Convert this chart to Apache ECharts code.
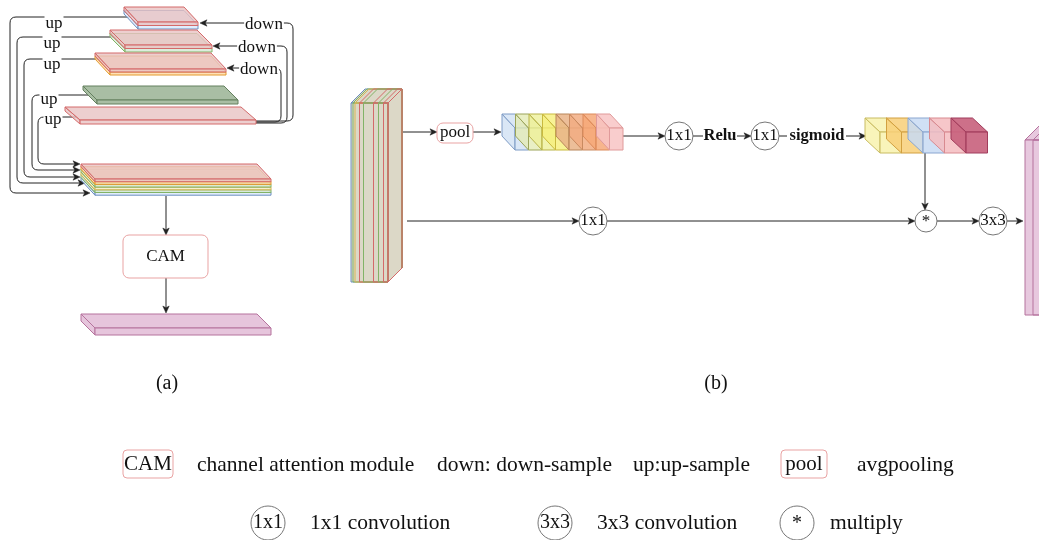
<!DOCTYPE html>
<html>
<head>
<meta charset="utf-8">
<title>CAM fusion diagram</title>
<script src="https://cdn.jsdelivr.net/npm/echarts@6/dist/echarts.min.js"></script>
<style>
  html, body { margin: 0; padding: 0; background: #fff; }
  #chart { width: 1039px; height: 540px; }
</style>
</head>
<body>
<div id="chart"></div>
<script>
  // ---------- (a) feature plates, top to bottom ----------
  const plateFrontX = [138, 125, 110, 97, 80, 95, 95];
  const plateFrontY = [22, 45, 69, 100, 120, 179, 328];
  const plateWidth = [60, 87, 116, 141, 176, 176, 176];
  const plateLayerH = [3.5, 3.5, 3, 4, 4, 2.7, 7];
  const plateDepth = [[14, 15], [15, 15], [15, 16], [14, 14], [15, 13], [14, 15], [14, 14]];
  const plateLayers = [
    ['red', 'blue'],
    ['red', 'green'],
    ['red', 'orange'],
    ['sage'],
    ['red'],
    ['red', 'orange', 'green', 'yellow', 'green', 'blue'],
    ['mauve']
  ];

  // ---------- (b) tall feature columns (input / output) ----------
  const columnFront = [[351, 103, 37, 179], [1025, 140, 60, 175]];
  const columnDepth = [[14, -14], [14, -14]];
  const columnOffsets = [[0, 2, 4, 8.5, 12.5, 22.5, 27.5, 32.5], [0, 8]];
  const columnColors = [
    ['blue', 'green', 'yellow', 'red', 'green', 'red', 'green', 'red'],
    ['mauve', 'mauve']
  ];
  const columnBody = ['#dcd8c7', '#e7c8de'];

  // ---------- (b) channel vectors drawn as cube rows ----------
  const pooledX = [515, 528.5, 542, 555.5, 569, 582.5, 596, 609.5];
  const pooledColors = ['sky', 'lime', 'lemon', 'sun', 'tan', 'apricot', 'peach', 'rose'];
  const weightX = [880, 901.5, 923, 944.5, 966];
  const weightColors = ['cream', 'gold', 'ice', 'blush', 'crimson'];
  const cubeRows = [
    { xs: pooledX, colors: pooledColors, y: 128, w: 13.5, h: 22, depth: [-13, -14] },
    { xs: weightX, colors: weightColors, y: 132, w: 21.5, h: 21, depth: [-15, -14] }
  ];

  // ---------- connectors ----------
  const linkPoints = [
    // up-sampling paths (a)
    [[132, 17], [10, 17], [10, 193], [90, 193]],
    [[117, 37], [17, 37], [17, 183], [85, 183]],
    [[100, 59], [24, 59], [24, 177], [80, 177]],
    [[92, 95], [32, 95], [32, 170], [80, 170]],
    [[76, 117], [38, 117], [38, 164], [80, 164]],
    // down-sampling paths (a)
    [[256, 121], [293, 121], [293, 23], [200, 23]],
    [[256, 123], [287, 123], [287, 46], [213, 46]],
    [[256, 122], [281, 122], [281, 68], [227, 68]],
    [[166, 196], [166, 235]],
    [[166, 278], [166, 313]],
    // (b)
    [[402, 132], [437, 132]],
    [[473, 132], [501, 132]],
    [[623, 136], [665, 136]],
    [[693, 136], [703, 136]],
    [[737, 136], [751, 136]],
    [[779, 136], [787, 136]],
    [[846, 136], [866, 136]],
    [[925, 153], [925, 210]],
    [[407, 221], [579, 221]],
    [[607, 221], [915, 221]],
    [[937, 221], [979, 221]],
    [[1007, 221], [1023, 221]]
  ];
  const linkArrow = [1, 1, 1, 1, 1, 1, 1, 1, 1, 1, 1, 1, 1, 0, 1, 0, 1, 1, 1, 1, 1, 1];

  // ---------- boxes, circles, text ----------
  const boxes = [['CAM', 123, 235, 85, 43], ['pool', 437, 123, 36, 20], ['CAM', 123, 450, 50, 28], ['pool', 781, 450, 46, 28]];
  const circles = [
    ['1x1', 679, 136, 14], ['1x1', 765, 136, 14], ['1x1', 593, 221, 14], ['*', 926, 221, 11], ['3x3', 993, 221, 14],
    ['1x1', 268, 523, 17], ['3x3', 555, 523, 17], ['*', 797, 523, 17]
  ];
  const edgeLabels = [
    ['up', 54, 24], ['up', 52, 44], ['up', 52, 65], ['up', 49, 100], ['up', 53, 120],
    ['down', 264, 25], ['down', 257, 48], ['down', 259, 70]
  ];
  const boldLabels = [['Relu', 720, 136], ['sigmoid', 817, 136]];
  const captions = [['(a)', 167, 384], ['(b)', 716, 384]];
  const legendTexts = [
    ['channel attention module', 197, 465], ['down: down-sample', 437, 465], ['up:up-sample', 633, 465],
    ['avgpooling', 857, 465], ['1x1 convolution', 310, 523], ['3x3 convolution', 597, 523], ['multiply', 830, 523]
  ];

  const palette = {
    red: { fill: '#e9c3c3', stroke: '#d46a6a', alpha: 0.8 },
    blue: { fill: '#dae8fc', stroke: '#6c8ebf', alpha: 0.8 },
    green: { fill: '#d5e8d4', stroke: '#82b366', alpha: 0.8 },
    orange: { fill: '#ffd9a8', stroke: '#e39a2d', alpha: 0.8 },
    yellow: { fill: '#fff2cc', stroke: '#d6b656', alpha: 0.8 },
    sage: { fill: '#a9bea4', stroke: '#64805e', alpha: 1 },
    mauve: { fill: '#e6c5dc', stroke: '#b5739d', alpha: 1 },
    sky: { fill: '#d4e3f5', stroke: '#7f9cc6', alpha: 0.85 },
    lime: { fill: '#e4ebb5', stroke: '#9ba45a', alpha: 0.8 },
    lemon: { fill: '#eef09a', stroke: '#b8b34a', alpha: 0.8 },
    sun: { fill: '#f6ef7a', stroke: '#c9b93f', alpha: 0.8 },
    tan: { fill: '#e9b387', stroke: '#b8865a', alpha: 0.85 },
    apricot: { fill: '#f2ad82', stroke: '#c98a60', alpha: 0.85 },
    peach: { fill: '#f6a878', stroke: '#dc8a5a', alpha: 0.85 },
    rose: { fill: '#f8c4c4', stroke: '#e09a9a', alpha: 0.85 },
    cream: { fill: '#f8f2ae', stroke: '#c9bc62', alpha: 0.85 },
    gold: { fill: '#f8cf78', stroke: '#d2a040', alpha: 0.85 },
    ice: { fill: '#c8daf3', stroke: '#8aa6d0', alpha: 0.85 },
    blush: { fill: '#f4bcc0', stroke: '#d88a90', alpha: 0.85 },
    crimson: { fill: '#c8607c', stroke: '#a03d5c', alpha: 0.9 }
  };

  const INK = '#222';
  const FONT = '"Liberation Serif", "Times New Roman", serif';

  // side, top and front faces of an oblique box; back face sits at (x+dx, y+dy)
  const boxFaces = (api, x, y, w, h, dx, dy) => {
    const c = (px, py) => api.coord([px, py]);
    const top = [c(x, y), c(x + w, y), c(x + w + dx, y + dy), c(x + dx, y + dy)];
    const side = dx < 0
      ? [c(x, y), c(x + dx, y + dy), c(x + dx, y + dy + h), c(x, y + h)]
      : [c(x + w, y), c(x + w + dx, y + dy), c(x + w + dx, y + dy + h), c(x + w, y + h)];
    const front = [c(x, y), c(x + w, y), c(x + w, y + h), c(x, y + h)];
    return [side, top, front];
  };

  const boxElements = (api, geo, fill, stroke, fillOpacity) =>
    boxFaces(api, ...geo).map(points => ({
      type: 'polygon',
      shape: { points },
      style: { fill: fill || 'none', stroke, lineWidth: 1, fillOpacity }
    }));

  const roundedPath = (pts, r) => {
    let d = 'M' + pts[0][0] + ' ' + pts[0][1];
    for (let i = 1; i < pts.length - 1; i++) {
      const [x0, y0] = pts[i - 1], [x1, y1] = pts[i], [x2, y2] = pts[i + 1];
      const l1 = Math.hypot(x1 - x0, y1 - y0), l2 = Math.hypot(x2 - x1, y2 - y1);
      const rr = Math.min(r, l1 / 2, l2 / 2);
      const ax = x1 + (x0 - x1) / l1 * rr, ay = y1 + (y0 - y1) / l1 * rr;
      const bx = x1 + (x2 - x1) / l2 * rr, by = y1 + (y2 - y1) / l2 * rr;
      d += ' L' + ax + ' ' + ay + ' Q' + x1 + ' ' + y1 + ' ' + bx + ' ' + by;
    }
    const last = pts[pts.length - 1];
    return d + ' L' + last[0] + ' ' + last[1];
  };

  const textEl = (api, text, x, y, opts) => {
    const p = api.coord([x, y]);
    return {
      type: 'text',
      style: Object.assign({
        text, x: p[0], y: p[1], fill: '#111',
        font: (opts.weight || 'normal') + ' ' + opts.size + 'px ' + FONT,
        align: opts.align || 'center', verticalAlign: 'middle'
      }, opts.extra || {})
    };
  };

  const renderPlate = (params, api) => {
    const i = params.dataIndex;
    const layers = plateLayers[i];
    const children = [];
    for (let k = layers.length - 1; k >= 0; k--) {
      const st = palette[layers[k]];
      const geo = [plateFrontX[i], plateFrontY[i] + k * plateLayerH[i], plateWidth[i], plateLayerH[i],
        -plateDepth[i][0], -plateDepth[i][1]];
      children.push(...boxElements(api, geo, st.fill, st.stroke, st.alpha));
    }
    return { type: 'group', children };
  };

  const renderColumn = (params, api) => {
    const i = params.dataIndex;
    const [x, y, w, h] = columnFront[i];
    const children = [];
    columnOffsets[i].forEach((off, k) => {
      const st = palette[columnColors[i][k]];
      const geo = [x + off, y, w - off, h, columnDepth[i][0], columnDepth[i][1]];
      children.push(...boxElements(api, geo, k === 0 ? columnBody[i] : null, st.stroke, 1));
    });
    return { type: 'group', children };
  };

  const renderCubes = (params, api) => {
    const row = cubeRows[params.dataIndex];
    const children = [];
    row.xs.forEach((x, k) => {
      const st = palette[row.colors[k]];
      children.push(...boxElements(api, [x, row.y, row.w, row.h, row.depth[0], row.depth[1]], st.fill, st.stroke, st.alpha));
    });
    return { type: 'group', children };
  };

  const renderLink = (params, api) => {
    const i = params.dataIndex;
    const pts = linkPoints[i].map(p => api.coord(p));
    const n = pts.length;
    const children = [];
    if (linkArrow[i]) {
      const end = pts[n - 1], prev = pts[n - 2];
      const len = Math.hypot(end[0] - prev[0], end[1] - prev[1]);
      const ux = (end[0] - prev[0]) / len, uy = (end[1] - prev[1]) / len;
      const L = 7, W = 3.2;
      const bx = end[0] - ux * L, by = end[1] - uy * L;
      const notch = [end[0] - ux * L * 0.75, end[1] - uy * L * 0.75];
      children.push({
        type: 'polygon',
        shape: { points: [end, [bx - uy * W, by + ux * W], notch, [bx + uy * W, by - ux * W]] },
        style: { fill: INK, stroke: INK, lineWidth: 0.5 }
      });
      pts[n - 1] = notch;
    }
    children.unshift({
      type: 'path',
      shape: { pathData: roundedPath(pts, 6) },
      style: { fill: 'none', stroke: INK, lineWidth: 1 }
    });
    return { type: 'group', children };
  };

  const renderBox = (params, api) => {
    const [label, x, y, w, h] = boxes[params.dataIndex];
    const p = api.coord([x, y]), q = api.coord([x + w, y + h]);
    const legend = y > 400;
    return {
      type: 'group',
      children: [
        { type: 'rect', shape: { x: p[0], y: p[1], width: q[0] - p[0], height: q[1] - p[1], r: legend ? 4 : 6 },
          style: { fill: '#fff', stroke: '#e9a3a3', lineWidth: 1 } },
        textEl(api, label, x + w / 2, y + h / 2, { size: legend ? 21 : 17 })
      ]
    };
  };

  const renderCircle = (params, api) => {
    const [label, cx, cy, r] = circles[params.dataIndex];
    const c = api.coord([cx, cy]);
    const rp = api.coord([cx + r, cy])[0] - c[0];
    return {
      type: 'group',
      children: [
        { type: 'circle', shape: { cx: c[0], cy: c[1], r: rp }, style: { fill: '#fff', stroke: '#777', lineWidth: 1 } },
        textEl(api, label, cx, cy + (label === '*' ? 1 : 0), { size: r > 15 ? 20 : 17 })
      ]
    };
  };

  const renderTexts = (params, api) => {
    const children = [];
    edgeLabels.forEach(([t, x, y]) =>
      children.push(textEl(api, t, x, y, { size: 17, extra: { backgroundColor: '#fff', padding: [0, 1] } })));
    boldLabels.forEach(([t, x, y]) => children.push(textEl(api, t, x, y, { size: 16.5, weight: 'bold' })));
    captions.forEach(([t, x, y]) => children.push(textEl(api, t, x, y, { size: 20 })));
    legendTexts.forEach(([t, x, y]) => children.push(textEl(api, t, x, y, { size: 21.5, align: 'left' })));
    return { type: 'group', children };
  };

  const layer = (name, data, renderItem, z) => ({
    type: 'custom', name, data, renderItem, z, silent: true,
    coordinateSystem: 'cartesian2d', encode: { x: 0, y: 1 }
  });

  const chart = echarts.init(document.getElementById('chart'));
  chart.setOption({
    animation: false,
    backgroundColor: '#fff',
    grid: { left: 0, right: 0, top: 0, bottom: 0 },
    xAxis: { type: 'value', min: 0, max: 1039, show: false },
    yAxis: { type: 'value', min: 0, max: 540, inverse: true, show: false },
    series: [
      layer('links', linkPoints.map(p => p[0]), renderLink, 1),
      layer('plates', plateFrontX.map((x, i) => [x, plateFrontY[i]]), renderPlate, 2),
      layer('columns', columnFront.map(f => [f[0], f[1]]), renderColumn, 2),
      layer('cubes', cubeRows.map(r => [r.xs[0], r.y]), renderCubes, 2),
      layer('boxes', boxes.map(b => [b[1], b[2]]), renderBox, 3),
      layer('circles', circles.map(c => [c[1], c[2]]), renderCircle, 3),
      layer('texts', [[0, 0]], renderTexts, 4)
    ]
  });
</script>
</body>
</html>
